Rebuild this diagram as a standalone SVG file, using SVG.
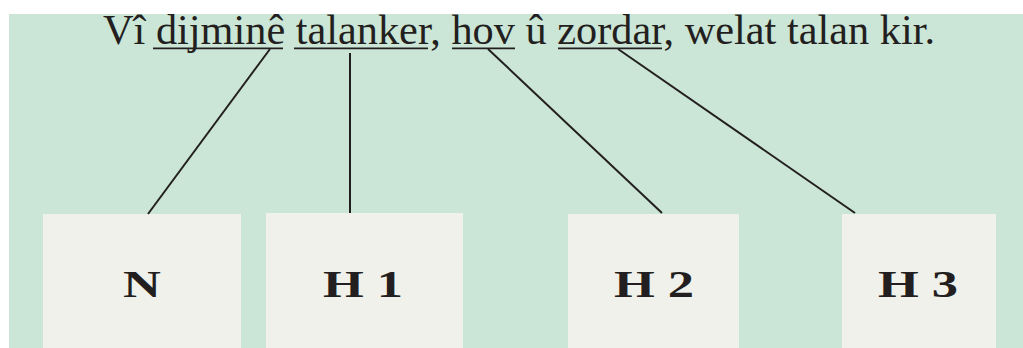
<svg xmlns="http://www.w3.org/2000/svg" width="1023" height="348" viewBox="0 0 1023 348">
<style>
.t{font-family:"Liberation Serif","Times New Roman",serif;font-size:41.5px;fill:#231f20}
.ul{stroke:#231f20;stroke-width:1.8}
.box{fill:#f0f1ea}
.lbl{font-family:"Liberation Serif","Times New Roman",serif;font-size:38px;font-weight:bold;fill:#231f20;text-anchor:middle}
.c{stroke:#231f20;stroke-width:2;fill:none}
</style>
<rect x="0" y="0" width="1023" height="348" fill="#ffffff"/>
<rect x="9" y="14" width="1014" height="334" fill="#cbe6d6"/>
<g id="title">
<text class="t" x="103" y="44" textLength="832" lengthAdjust="spacingAndGlyphs">Vî dijminê talanker, hov û zordar, welat talan kir.</text>
<line class="ul" x1="153" y1="48.3" x2="283" y2="48.3"/>
<line class="ul" x1="294" y1="48.3" x2="428" y2="48.3"/>
<line class="ul" x1="452" y1="48.3" x2="515" y2="48.3"/>
<line class="ul" x1="558" y1="48.3" x2="662" y2="48.3"/>
</g>
<g id="n1"><rect class="box" x="43" y="214" width="198" height="134"/><text class="lbl" transform="translate(142,297) scale(1.38,1)">N</text></g>
<g id="n2"><rect class="box" x="266" y="213" width="197" height="135"/><text class="lbl" transform="translate(363,297) scale(1.38,1)">H 1</text></g>
<g id="n3"><rect class="box" x="568" y="214" width="171" height="134"/><text class="lbl" transform="translate(654,297) scale(1.38,1)">H 2</text></g>
<g id="n4"><rect class="box" x="842" y="214" width="154" height="134"/><text class="lbl" transform="translate(918,297) scale(1.38,1)">H 3</text></g>
<g id="connectors">
<line class="c" x1="270" y1="49" x2="148" y2="214"/>
<line class="c" x1="350" y1="53" x2="350" y2="213"/>
<line class="c" x1="488" y1="49" x2="662" y2="213"/>
<line class="c" x1="618" y1="49" x2="855" y2="213"/>
</g>
</svg>
